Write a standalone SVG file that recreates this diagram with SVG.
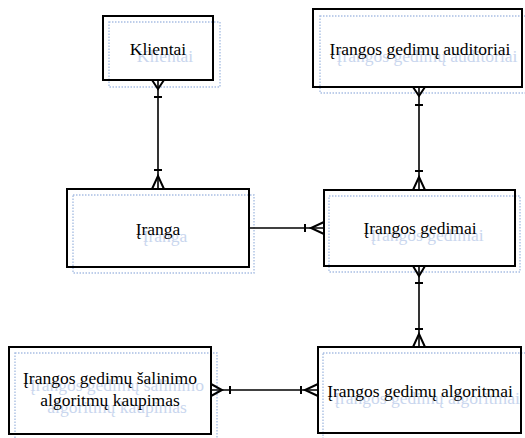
<svg xmlns="http://www.w3.org/2000/svg" width="525" height="438" viewBox="0 0 525 438">
  <style>
    .box { fill: none; stroke: #000; stroke-width: 2; }
    .shadow { fill: none; stroke: #a9bfe3; stroke-width: 1.4; stroke-dasharray: 1.5 1.5; }
    .label { fill: #000; text-anchor: middle; }
    .ghost { fill: #c9d6ee; text-anchor: middle; }
    .link { fill: none; stroke: #000; stroke-width: 1.6; }
    .end { fill: none; stroke: #000; stroke-width: 2; }
  </style>
  <rect width="525" height="438" fill="#fff"/>

  <g font-family="Liberation Serif, Times New Roman, serif" font-size="17.5">
    <g id="klientai">
      <rect class="shadow" x="109" y="22" width="111" height="65"/>
      <text class="ghost" x="165" y="62">Klientai</text>
      <rect class="box" x="103" y="16" width="110" height="64"/>
      <text class="label" x="158" y="55">Klientai</text>
    </g>

    <g id="auditoriai">
      <rect class="shadow" x="320" y="16" width="210" height="77"/>
      <text class="ghost" x="427" y="62">Įrangos gedimų auditoriai</text>
      <rect class="box" x="313" y="9" width="209" height="78"/>
      <text class="label" x="420" y="55">Įrangos gedimų auditoriai</text>
    </g>

    <g id="iranga">
      <rect class="shadow" x="73" y="195" width="181" height="78"/>
      <text class="ghost" x="165" y="242">Įranga</text>
      <rect class="box" x="67" y="189" width="182" height="78"/>
      <text class="label" x="158" y="235">Įranga</text>
    </g>

    <g id="gedimai">
      <rect class="shadow" x="329" y="196" width="191" height="76"/>
      <text class="ghost" x="427" y="241">Įrangos gedimai</text>
      <rect class="box" x="324" y="190" width="191" height="76"/>
      <text class="label" x="420" y="234">Įrangos gedimai</text>
    </g>

    <g id="salinimas">
      <rect class="shadow" x="15" y="353" width="202" height="88"/>
      <text class="ghost" x="117" y="391">Įrangos gedimų šalinimo</text>
      <text class="ghost" x="117" y="413">algoritmų kaupimas</text>
      <rect class="box" x="9" y="347" width="202" height="87"/>
      <text class="label" x="110" y="384">Įrangos gedimų šalinimo</text>
      <text class="label" x="110" y="406">algoritmų kaupimas</text>
    </g>

    <g id="algoritmai">
      <rect class="shadow" x="323" y="353" width="210" height="88"/>
      <text class="ghost" x="427" y="404">Įrangos gedimų algoritmai</text>
      <rect class="box" x="318" y="347" width="203" height="86"/>
      <text class="label" x="420" y="397">Įrangos gedimų algoritmai</text>
    </g>
  </g>

  <g id="connectors">
    <!-- Klientai – Įranga -->
    <path class="link" d="M158 80 V189"/>
    <path class="end" d="M152 80 L158 89 L164 80 M154 97 H162"/>
    <path class="end" d="M154 170 H162 M152 189 L158 176 L164 189"/>

    <!-- auditoriai – gedimai -->
    <path class="link" d="M419 87 V190"/>
    <path class="end" d="M413 87 L419 96 L425 87 M415 105 H423"/>
    <path class="end" d="M415 171 H423 M413 190 L419 177 L425 190"/>

    <!-- gedimai – algoritmai -->
    <path class="link" d="M419 266 V347"/>
    <path class="end" d="M413 266 L419 276 L425 266 M415 283 H423"/>
    <path class="end" d="M415 329 H423 M413 347 L419 334 L425 347"/>

    <!-- Įranga – gedimai -->
    <path class="link" d="M249 228 H324"/>
    <path class="end" d="M305 224 V232 M324 222 L311 228 L324 234"/>

    <!-- šalinimo kaupimas – algoritmai -->
    <path class="link" d="M211 390 H318"/>
    <path class="end" d="M211 384 L222 390 L211 396 M230 386 V394"/>
    <path class="end" d="M301 386 V394 M318 384 L305 390 L318 396"/>
  </g>
</svg>
